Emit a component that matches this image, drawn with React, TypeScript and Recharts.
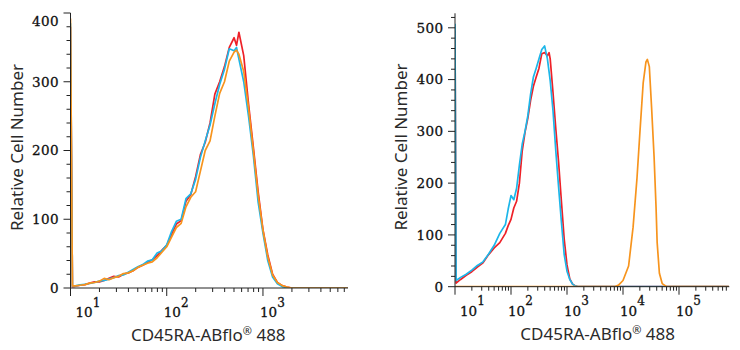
import { LineChart, Line, XAxis, YAxis } from "recharts";

const RED = "#ee2128";
const CYAN = "#1cb6e9";
const ORANGE = "#f7941d";
const AXIS = "#222";
const BOX = "#555";
const TICK_FONT = "DejaVu Serif";
const TITLE_FONT = "Noto Sans";

// left panel, channel values as powers of ten
const leftExp = [
  1.0, 1.02, 1.05,
  1.1, 1.15, 1.2, 1.25, 1.3, 1.35, 1.4, 1.45, 1.5, 1.55,
  1.6, 1.65, 1.7, 1.75, 1.8, 1.85, 1.9, 1.95, 2.0, 2.05,
  2.1, 2.15, 2.2, 2.25, 2.3, 2.35, 2.4, 2.45, 2.5, 2.55,
  2.6, 2.65, 2.7, 2.725, 2.75, 2.8, 2.85, 2.9, 2.95, 3.0,
  3.05, 3.1, 3.15, 3.2, 3.25, 3.3, 3.5, 3.88,
];
const leftRed = [
  380, 2, 2.5,
  4, 5, 7, 9, 9, 11, 14, 17, 16, 20,
  22, 25, 30, 33, 37, 41, 47, 55, 62, 78,
  93, 98, 126, 136, 162, 194, 212, 240, 282, 300,
  322, 350, 364, 353, 372, 338, 268, 205, 140, 85,
  48, 20, 8, 3.5, 1.5, 0, 0, 0,
];
const leftCyan = [
  385, 3, 3,
  4.5, 5.5, 6.5, 8, 10, 11, 13, 15, 18, 19,
  23, 27, 31, 34, 39, 41, 51, 54, 63, 82,
  97, 100, 130, 137, 158, 190, 214, 237, 268, 296,
  318, 348, 345, 350, 333, 300, 250, 193, 125, 80,
  40, 16, 6, 2, 0.5, 0, 0, 0,
];
const leftOrange = [
  392, 3, 3,
  4, 5, 7, 8, 10, 14, 12, 15, 17, 21,
  22, 25, 30, 33, 36, 38, 44, 52, 60, 74,
  88, 94, 118, 132, 140, 170, 200, 214, 250, 283,
  300, 330, 343, 346, 340, 315, 262, 200, 135, 84,
  45, 19, 8, 3.5, 1.5, 0, 0, 0,
];

// right panel
const rightExp = [
  1.0, 1.02,
  1.1, 1.2, 1.3, 1.4, 1.5, 1.6, 1.7, 1.8, 1.9,
  1.95, 2.0, 2.05, 2.1, 2.15, 2.2, 2.25, 2.3, 2.35, 2.4,
  2.45, 2.5, 2.55, 2.6, 2.65, 2.68, 2.7, 2.75, 2.8, 2.85,
  2.9, 2.95, 3.0, 3.05, 3.1, 3.15, 3.2, 3.5, 5.89,
];
const rightRed = [
  495, 7,
  14, 22, 29, 38, 46, 62, 75, 85, 103,
  118, 130, 152, 165, 200, 262, 298, 325, 360, 387,
  405, 422, 450, 452, 446, 452, 440, 375, 305, 240,
  165, 92, 42, 15, 5, 1.5, 0, 0, 0,
];
const rightCyan = [
  508, 12,
  18, 24, 32, 41, 48, 63, 80, 103, 120,
  150, 176, 168, 190, 235, 275, 300, 330, 372, 405,
  422, 440, 458, 465, 440, 415, 398, 340, 262, 192,
  125, 62, 30, 14, 5, 1, 0, 0, 0,
];
const rightOrangeExp = [1.0, 3.85, 3.92, 4.0, 4.1, 4.18, 4.25, 4.3, 4.36, 4.41, 4.435, 4.47, 4.51, 4.555, 4.59, 4.61, 4.65, 4.7, 4.78, 5.89];
const rightOrange = [0, 0, 3, 12, 40, 115, 210, 295, 393, 434, 439, 425, 347, 251, 154, 85, 26, 6, 0, 0];

const leftDecades = [10, 100, 1000];
const rightDecades = [10, 100, 1000, 10000, 100000];
const leftYMajor = [0, 100, 200, 300, 400];
const rightYMajor = [0, 100, 200, 300, 400, 500];

const toPoints = (exp: number[], vals: number[]) =>
  exp.map((e, i) => ({ x: Math.pow(10, e), y: vals[i] }));

function logTicks(decades: number[], max: number) {
  const out: number[] = [];
  decades.forEach((d) => {
    for (let k = 1; k < 10; k++) if (d * k <= max) out.push(d * k);
  });
  return out;
}

function yTicks(major: number[], max: number) {
  const out: number[] = [];
  for (let v = major[0]; v <= max; v += 20) out.push(v);
  return out;
}

const makeXTick = (xMin: number) => (props: any) => {
  const { x, y, payload } = props;
  const v = payload.value;
  const e = Math.log10(v);
  const major = Math.abs(e - Math.round(e)) < 1e-6;
  const tx = Math.abs(v - xMin) < 1e-6 ? x + 5 : x - 3;
  return (
    <g>
      <line x1={x} x2={x} y1={y} y2={y + (major ? 8 : 4)} stroke={AXIS} />
      {major && (
        <text x={tx} y={y + 29} fontFamily={TICK_FONT} fontSize={13.5} fill="#111" stroke="#111" strokeWidth={0.3}>
          10
          <tspan dy={-10.5} fontSize={12}>{Math.round(e)}</tspan>
        </text>
      )}
    </g>
  );
};

const makeYTick = (labelMinY: number) => (props: any) => {
  const { x, y, payload } = props;
  const v = payload.value;
  const major = v % 100 === 0;
  return (
    <g>
      <line x1={x - (major ? 7 : 4)} x2={x} y1={y} y2={y} stroke={AXIS} />
      {major && (
        <text
          x={x - 11.5}
          y={Math.max(y, labelMinY)}
          dy="0.36em"
          textAnchor="end"
          fontFamily={TICK_FONT}
          fontSize={13.5}
          letterSpacing={0.4}
          fill="#111"
          stroke="#111"
          strokeWidth={0.3}
        >
          {v}
        </text>
      )}
    </g>
  );
};

const XTitle = (dx: number) => (props: any) => {
  const vb = props.viewBox || {};
  return (
    <text
      x={vb.x + vb.width / 2 + dx}
      y={vb.y + 53}
      textAnchor="middle"
      fontFamily={TITLE_FONT}
      fontSize={17}
      fill="#2a2a2a"
    >
      CD45RA-ABflo
      <tspan fontSize={11} dy={-6}>®</tspan>
      <tspan dy={6}> 488</tspan>
    </text>
  );
};

const YTitle = (props: any) => {
  const vb = props.viewBox || {};
  const cx = vb.x + vb.width - 54;
  const cy = vb.y + vb.height / 2 - 3;
  return (
    <text
      x={cx}
      y={cy}
      transform={`rotate(-90 ${cx} ${cy})`}
      textAnchor="middle"
      dy="0.36em"
      fontFamily={TITLE_FONT}
      fontSize={17}
      fill="#2a2a2a"
    >
      Relative Cell Number
    </text>
  );
};

type Series = { data: { x: number; y: number }[]; color: string; name: string };

function Panel(p: {
  series: Series[];
  xMax: number;
  yMax: number;
  decades: number[];
  yMajor: number[];
  margin: { top: number; right: number; left: number; bottom: number };
  yWidth: number;
  xHeight: number;
  labelMinY: number;
  titleDx: number;
}) {
  const xDomain: [number, number] = [10, p.xMax];
  const yDomain: [number, number] = [0, p.yMax];
  return (
    <LineChart width={370} height={350} margin={p.margin}>
      <XAxis
        dataKey="x"
        type="number"
        scale="log"
        domain={xDomain}
        allowDataOverflow
        ticks={logTicks(p.decades, p.xMax)}
        interval={0}
        tick={makeXTick(10)}
        tickLine={false}
        tickSize={0}
        tickMargin={0}
        height={p.xHeight}
        axisLine={{ stroke: AXIS }}
        label={XTitle(p.titleDx)}
      />
      <XAxis
        xAxisId="top"
        orientation="top"
        dataKey="x"
        type="number"
        scale="log"
        domain={xDomain}
        allowDataOverflow
        height={0}
        tick={false}
        tickLine={false}
        axisLine={{ stroke: BOX }}
      />
      <YAxis
        type="number"
        domain={yDomain}
        allowDataOverflow
        ticks={yTicks(p.yMajor, p.yMax)}
        interval={0}
        tick={makeYTick(p.labelMinY)}
        tickLine={false}
        tickSize={0}
        tickMargin={0}
        width={p.yWidth}
        axisLine={{ stroke: AXIS }}
        label={YTitle}
      />
      <YAxis
        yAxisId="right"
        orientation="right"
        type="number"
        domain={yDomain}
        width={0}
        tick={false}
        tickLine={false}
        axisLine={{ stroke: BOX }}
      />
      {p.series.map((s) => (
        <Line
          key={s.name}
          data={s.data}
          dataKey="y"
          type="linear"
          stroke={s.color}
          strokeWidth={1.7}
          strokeLinejoin="round"
          dot={false}
          isAnimationActive={false}
        />
      ))}
    </LineChart>
  );
}

export default function App() {
  const leftSeries: Series[] = [
    { name: "red", color: RED, data: toPoints(leftExp, leftRed) },
    { name: "cyan", color: CYAN, data: toPoints(leftExp, leftCyan) },
    { name: "orange", color: ORANGE, data: toPoints(leftExp, leftOrange) },
  ];
  const rightSeries: Series[] = [
    { name: "red", color: RED, data: toPoints(rightExp, rightRed) },
    { name: "cyan", color: CYAN, data: toPoints(rightExp, rightCyan) },
    { name: "orange", color: ORANGE, data: toPoints(rightOrangeExp, rightOrange) },
  ];
  return (
    <div style={{ position: "absolute", left: 0, top: 0, width: 740, height: 350, display: "flex", background: "#fff" }}>
      <Panel
        series={leftSeries}
        xMax={7650}
        yMax={400}
        decades={leftDecades}
        yMajor={leftYMajor}
        margin={{ top: 13, right: 22, left: 0, bottom: 0 }}
        yWidth={70.5}
        xHeight={62}
        labelMinY={21}
        titleDx={-1}
      />
      <Panel
        series={rightSeries}
        xMax={791000}
        yMax={528}
        decades={rightDecades}
        yMajor={rightYMajor}
        margin={{ top: 13.3, right: 10.7, left: 0, bottom: 0 }}
        yWidth={85}
        xHeight={63.3}
        labelMinY={0}
        titleDx={5.5}
      />
    </div>
  );
}
